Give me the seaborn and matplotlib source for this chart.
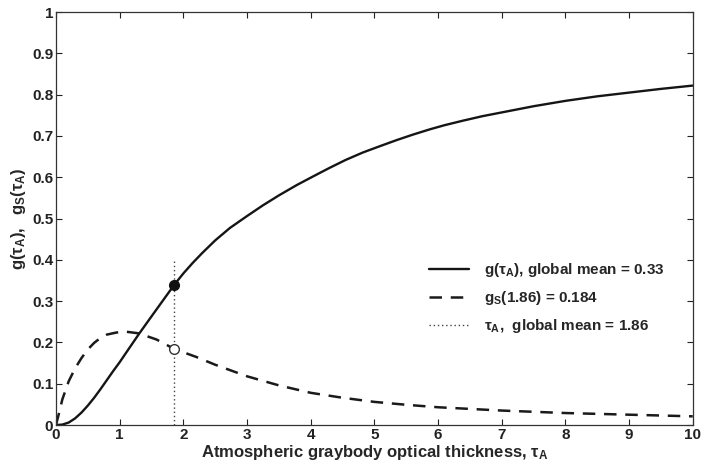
import numpy as np
import pandas as pd
import matplotlib
matplotlib.use("Agg")
import matplotlib.pyplot as plt
import seaborn as sns

# Total greenhouse factor g(tau_A)
tau_g = [0.0, 0.1, 0.2, 0.3, 0.4, 0.5, 0.6, 0.7, 0.8, 0.9, 1.0, 1.15, 1.31,
         1.5, 1.71, 1.86, 2.0, 2.15, 2.3, 2.5, 2.73, 3.0, 3.25, 3.5, 3.78,
         4.05, 4.3, 4.55, 4.82, 5.1, 5.35, 5.6, 5.87, 6.1, 6.39, 6.7, 7.0,
         7.5, 8.0, 8.5, 9.0, 9.5, 10.0]
g_total = [0.0, 0.001, 0.006, 0.016, 0.030, 0.047, 0.066, 0.087, 0.109,
           0.131, 0.152, 0.186, 0.222, 0.263, 0.308, 0.340, 0.367, 0.393,
           0.417, 0.447, 0.477, 0.506, 0.532, 0.556, 0.581, 0.603, 0.623,
           0.642, 0.660, 0.676, 0.690, 0.703, 0.716, 0.726, 0.737, 0.748,
           0.757, 0.772, 0.785, 0.796, 0.805, 0.814, 0.822]

# Surface component g_S(tau_A)
tau_s = [0.0, 0.05, 0.1, 0.2, 0.3, 0.4, 0.5, 0.6, 0.7, 0.8, 0.95, 1.1, 1.3,
         1.58, 1.86, 2.2, 2.5, 3.0, 3.5, 4.0, 4.5, 5.0, 5.5, 6.0, 7.0, 8.0,
         9.0, 10.0]
g_surface = [0.0, 0.030, 0.062, 0.106, 0.137, 0.162, 0.183, 0.199, 0.211,
             0.219, 0.224, 0.226, 0.222, 0.207, 0.184, 0.165, 0.146, 0.118,
             0.096, 0.078, 0.066, 0.056, 0.049, 0.043, 0.035, 0.029, 0.025,
             0.021]

tau_mean = 1.86
g_at_mean = 0.34
gs_at_mean = 0.184
mean_line_top = 0.4

legend_labels = [r"$\mathregular{g(\tau_A)}$, global mean = 0.33",
                 r"$\mathregular{g_S(1.86)}$ = 0.184",
                 r"$\mathregular{\tau_A}$,  global mean = 1.86"]

sns.set_style("ticks")
plt.rcParams["font.family"] = ["Liberation Sans", "DejaVu Sans"]
plt.rcParams["font.weight"] = "bold"
plt.rcParams["mathtext.fontset"] = "custom"
plt.rcParams["mathtext.rm"] = "Liberation Sans:bold"
plt.rcParams["mathtext.it"] = "Liberation Sans:bold"
plt.rcParams["mathtext.bf"] = "Liberation Sans:bold"

df_g = pd.DataFrame({"tau": tau_g, "g": g_total})
df_s = pd.DataFrame({"tau": tau_s, "gs": g_surface})

fig = plt.figure(figsize=(7.04, 4.65), dpi=100)
ax = fig.add_axes([0.0795, 0.086, 0.9045, 0.888])

sns.lineplot(data=df_g, x="tau", y="g", ax=ax, color="#151515", lw=1.7,
             label=legend_labels[0])
sns.lineplot(data=df_s, x="tau", y="gs", ax=ax, color="#1a1a1a", lw=1.8,
             label=legend_labels[1])
ax.lines[-1].set_dashes([5, 3.5])
ax.plot([tau_mean, tau_mean], [0, mean_line_top], color="#444444", lw=1.0,
        ls=(0, (1, 2)), label=legend_labels[2])

ax.plot([tau_mean], [g_at_mean], "o", color="#111111", ms=7, zorder=5)
ax.plot([tau_mean], [gs_at_mean], "o", mfc="white", mec="#333333", mew=1.0,
        ms=7, zorder=5)

ax.set_xlim(0, 10)
ax.set_ylim(0, 1)
ax.set_xticks(range(0, 11))
ax.set_yticks(np.round(np.arange(0, 1.01, 0.1), 1))
ax.set_yticklabels(["0", "0.1", "0.2", "0.3", "0.4", "0.5", "0.6", "0.7",
                    "0.8", "0.9", "1"])
ax.tick_params(direction="in", top=True, right=True, length=4, width=0.8,
               labelsize=11, colors="#222222", pad=2)
for lab in ax.get_xticklabels() + ax.get_yticklabels():
    lab.set_fontweight("bold")
for sp in ax.spines.values():
    sp.set_linewidth(0.9)
    sp.set_color("#333333")

ax.set_xlabel(r"Atmospheric graybody optical thickness, $\mathregular{\tau_A}$",
              fontsize=12, fontweight="bold", labelpad=1)
ax.set_ylabel(r"$\mathregular{g(\tau_A),\ \ g_S(\tau_A)}$", fontsize=12,
              fontweight="bold", labelpad=3)

leg = ax.legend(loc="upper left", bbox_to_anchor=(0.565, 0.43), frameon=False,
                fontsize=11, handlelength=2.6, handletextpad=1.0,
                labelspacing=0.65)
for t in leg.get_texts():
    t.set_fontweight("bold")

fig.savefig("out.png", dpi=100)
